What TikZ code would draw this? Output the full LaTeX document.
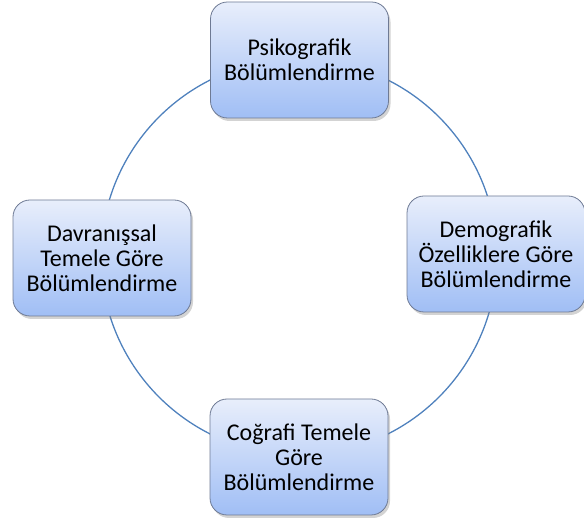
\documentclass[tikz,border=0pt]{standalone}
\usepackage{fontspec}
\setmainfont{Carlito}
\usetikzlibrary{shadows, positioning}
\definecolor{boxtop}{RGB}{232,238,251}
\definecolor{boxbottom}{RGB}{160,190,245}
\definecolor{boxline}{RGB}{110,122,148}
\definecolor{ringblue}{RGB}{79,129,189}

\begin{document}
\begin{tikzpicture}[x=1pt, y=1pt,
    segbox/.style={draw=boxline, line width=0.8pt, rounded corners=17pt,
        top color=boxtop, bottom color=boxbottom,
        minimum width=178pt, minimum height=116pt, align=center,
        font=\fontsize{24}{25}\selectfont,
        drop shadow={shadow xshift=2pt, shadow yshift=-3pt, opacity=0.35}}]
    \useasboundingbox (0,0) rectangle (584,522);

    % --- ring behind the boxes ---
    \coordinate (mid) at (299,265);
    \draw[ringblue, line width=1.3pt] (mid) circle (198);

    % --- the four segments ---
    \node[segbox] (psikobox) at (299.5,462) {Psikografik\\Bölümlendirme};
    \node[segbox] (demobox) at (496,268) {Demografik\\Özelliklere Göre\\Bölümlendirme};
    \node[segbox] (davbox) at (102,264) {Davranışsal\\Temele Göre\\Bölümlendirme};
    \node[segbox] (cogbox) at (299,65) {Coğrafi Temele\\Göre\\Bölümlendirme};
\end{tikzpicture}
\end{document}
